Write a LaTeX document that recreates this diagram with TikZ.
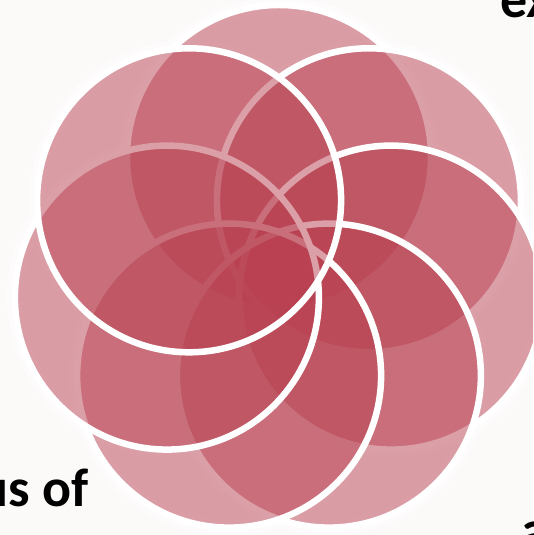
\documentclass[tikz,border=0pt]{standalone}
\usepackage{fontspec}
\setmainfont{Carlito}
\usepackage{tikz}

\definecolor{petalred}{RGB}{185,65,81}
\definecolor{pagebg}{RGB}{252,249,249}

\begin{document}
\begin{tikzpicture}[
  x=1pt, y=1pt,
  petal/.style={circle, draw=white, line width=6.5pt,
    fill=petalred, fill opacity=0.5, draw opacity=1,
    minimum size=304pt, inner sep=0pt},
  halo/.style={circle, draw=white, line width=16pt, draw opacity=0.45,
    minimum size=304pt, inner sep=0pt},
  txt/.style={font=\fontsize{54}{64}\selectfont\bfseries, text=black, inner sep=0pt}
]
\useasboundingbox (0,0) rectangle (533,535);
\fill[pagebg] (0,0) rectangle (533,535);
\clip (0,0) rectangle (533,535);

% seven petals round the middle, drawn clockwise from the top
\begin{scope}[shift={(279,263)}]
  \foreach \k in {0,...,6}
    \node[halo] (halo\k) at (90-\k*360/7:115) {};
  \foreach \k in {0,...,6}
    \node[petal] (petal\k) at (90-\k*360/7:115) {};
\end{scope}

% cut-off words at the edges
\node[txt, anchor=base west] (ex) at (500,517) {ex};
\node[txt, anchor=base east] (usof) at (89,28) {us of};
\node[txt, anchor=base west] (abit) at (521,-13) {a};
\end{tikzpicture}
\end{document}
